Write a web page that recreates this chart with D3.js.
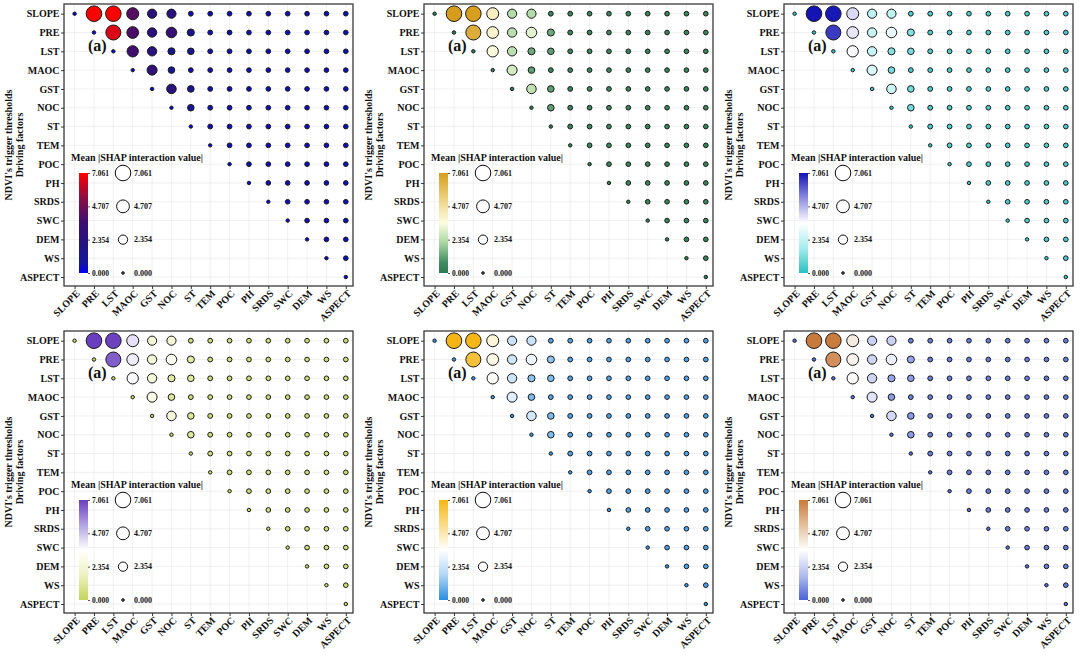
<!DOCTYPE html>
<html>
<head>
<meta charset="utf-8">
<script src="https://cdn.jsdelivr.net/npm/d3@7"></script>
<style>
  html, body { margin: 0; padding: 0; background: #ffffff; }
  svg { display: block; }
  text { font-family: "Liberation Serif", "Times New Roman", serif; font-weight: bold; fill: #111; }
</style>
</head>
<body>
<svg id="chart" width="1080" height="656"></svg>
<script>
// ---------------- DATA ----------------
const factors = ["SLOPE","PRE","LST","MAOC","GST","NOC","ST","TEM","POC","PH","SRDS","SWC","DEM","WS","ASPECT"];

// Upper-triangle mean |SHAP interaction| values; row i lists columns i..14
const rowSLOPE  = [0.15, 7.061, 7.00, 4.10, 2.30, 2.30, 0.50, 0.48, 0.46, 0.46, 0.45, 0.45, 0.45, 0.45, 0.45];
const rowPRE    = [0.15, 6.50, 3.90, 2.40, 3.10, 1.30, 0.50, 0.48, 0.47, 0.46, 0.46, 0.45, 0.45, 0.45];
const rowLST    = [0.15, 3.60, 2.40, 1.30, 1.10, 0.50, 0.48, 0.47, 0.46, 0.45, 0.45, 0.45, 0.45];
const rowMAOC   = [0.15, 2.80, 1.10, 0.50, 0.48, 0.47, 0.46, 0.45, 0.45, 0.45, 0.45, 0.45];
const rowGST    = [0.15, 2.50, 1.10, 0.50, 0.48, 0.47, 0.46, 0.45, 0.45, 0.45, 0.45];
const rowNOC    = [0.15, 1.10, 0.50, 0.48, 0.47, 0.46, 0.45, 0.45, 0.45, 0.45];
const rowST     = [0.15, 0.50, 0.48, 0.47, 0.46, 0.45, 0.45, 0.45, 0.45];
const rowTEM    = [0.15, 0.48, 0.47, 0.46, 0.45, 0.45, 0.45, 0.45];
const rowPOC    = [0.15, 0.47, 0.46, 0.45, 0.45, 0.45, 0.45];
const rowPH     = [0.15, 0.46, 0.45, 0.45, 0.45, 0.45];
const rowSRDS   = [0.15, 0.45, 0.45, 0.45, 0.45];
const rowSWC    = [0.15, 0.45, 0.45, 0.45];
const rowDEM    = [0.15, 0.45, 0.45];
const rowWS     = [0.15, 0.45];
const rowASPECT = [0.15];
const upperRows = [rowSLOPE,rowPRE,rowLST,rowMAOC,rowGST,rowNOC,rowST,rowTEM,rowPOC,rowPH,rowSRDS,rowSWC,rowDEM,rowWS,rowASPECT];

const legendTicks = [0, 2.354, 4.707, 7.061];
const legendTickLabels = ["0.000", "2.354", "4.707", "7.061"];
const vMax = 7.061;

// Colormaps (low -> high) for the six panels, with stop positions (fraction of range)
const cmapBlueRed     = ["#0000f4", "#16169c", "#1e1484", "#3c0f70", "#8a0f45", "#ff0000"];
const cmapBlueRedPos  = [0, 0.1, 0.25, 0.5, 0.75, 1];
const cmapGreenGold   = ["#2f7a52", "#3f8a60", "#a9d6a2", "#fdfde2", "#ecd080", "#d69c1c"];
const cmapTealBlue    = ["#2cc0c0", "#a6ecec", "#ffffff", "#8c8ce0", "#1414b4"];
const cmapLimePurple  = ["#c4d45a", "#eef2c2", "#ffffff", "#b3a3e2", "#6a3fbf"];
const cmapBlueYellow  = ["#2a8ee0", "#b2d6f3", "#ffffff", "#f9dc8a", "#f5b514"];
const cmapBlueBrown   = ["#4a64d6", "#b3bdec", "#ffffff", "#e4c09c", "#c87a3c"];
const cmapGreenGoldPos = [0, 0.1, 0.3, 0.5, 0.75, 1];
const uniformPos      = [0, 0.25, 0.5, 0.75, 1];
const panelColormaps  = [cmapBlueRed, cmapGreenGold, cmapTealBlue, cmapLimePurple, cmapBlueYellow, cmapBlueBrown];
const panelStopPos    = [cmapBlueRedPos, cmapGreenGoldPos, uniformPos, uniformPos, uniformPos, uniformPos];

const panelLabel = "(a)";
const yTitle1 = "NDVI's trigger thresholds";
const yTitle2 = "Driving factors";
const legendTitle = "Mean |SHAP interaction value|";

// ---------------- DRAW ----------------
const svg = d3.select("#chart");
const defs = svg.append("defs");
const colOffsets = [0, 360, 720];
const rowOffsets = [0, 327];
const ink = "#111111";

const cells = [];
upperRows.forEach((vals, i) => {
  vals.forEach((v, k) => cells.push({ row: factors[i], col: factors[i + k], value: v }));
});

const areaScale = d3.scaleLinear().domain([0, vMax]).range([1.7, 61]);
const radius = v => Math.sqrt(areaScale(v));

const frame = { left: 64, right: 353, top: 4, bottom: 286 };

panelColormaps.forEach((cmap, p) => {
  const pos = panelStopPos[p];
  const ox = colOffsets[p % 3], oy = rowOffsets[Math.floor(p / 3)];
  const g = svg.append("g").attr("transform", `translate(${ox},${oy})`);

  const x = d3.scalePoint().domain(factors).range([74.6, 345.8]);
  const y = d3.scalePoint().domain(factors).range([13.7, 277]);
  const color = d3.scaleLinear()
    .domain(pos.map(f => vMax * f))
    .range(cmap).interpolate(d3.interpolateRgb);

  // grid
  const grid = g.append("g");
  grid.selectAll("line.vx").data(factors).enter().append("line")
    .attr("x1", d => x(d)).attr("x2", d => x(d))
    .attr("y1", frame.top).attr("y2", frame.bottom)
    .attr("stroke", "#e6e6e6").attr("stroke-width", 0.6);
  grid.selectAll("line.hy").data(factors).enter().append("line")
    .attr("y1", d => y(d)).attr("y2", d => y(d))
    .attr("x1", frame.left).attr("x2", frame.right)
    .attr("stroke", "#e6e6e6").attr("stroke-width", 0.6);

  // axes
  const yAxis = g.append("g").attr("transform", `translate(${frame.left},0)`)
    .call(d3.axisLeft(y).tickSize(3).tickPadding(1.5));
  yAxis.select(".domain").remove();
  yAxis.selectAll("text").style("font-size", "10px").style("fill", ink);
  yAxis.selectAll("line").attr("stroke", "#333");

  const xAxis = g.append("g").attr("transform", `translate(0,${frame.bottom})`)
    .call(d3.axisBottom(x).tickSize(3));
  xAxis.select(".domain").remove();
  xAxis.selectAll("line").attr("stroke", "#333");
  xAxis.selectAll("text")
    .style("font-size", "10px").style("fill", ink)
    .attr("text-anchor", "end")
    .attr("dy", "0.35em").attr("y", 6).attr("x", 0)
    .attr("transform", "rotate(-45) translate(-2,0)");

  // frame
  g.append("rect").attr("x", frame.left).attr("y", frame.top)
    .attr("width", frame.right - frame.left).attr("height", frame.bottom - frame.top)
    .attr("fill", "none").attr("stroke", "#3a3a3a").attr("stroke-width", 1.3);

  // bubbles
  g.append("g").selectAll("circle").data(cells).enter().append("circle")
    .attr("cx", d => x(d.col)).attr("cy", d => y(d.row))
    .attr("r", d => radius(d.value))
    .attr("fill", d => color(d.value))
    .attr("stroke", "#1a1a1a").attr("stroke-width", 1.0);

  // panel label
  g.append("text").attr("x", 88).attr("y", 51).style("font-size", "16px").style("fill", ink).text(panelLabel);

  // y titles
  g.append("text").attr("transform", `translate(12,${(frame.top + frame.bottom) / 2}) rotate(-90)`)
    .attr("text-anchor", "middle").style("font-size", "10px").style("fill", ink).text(yTitle1);
  g.append("text").attr("transform", `translate(23,${(frame.top + frame.bottom) / 2}) rotate(-90)`)
    .attr("text-anchor", "middle").style("font-size", "10px").style("fill", ink).text(yTitle2);

  // legend
  const lg = g.append("g");
  lg.append("text").attr("x", 71).attr("y", 161).style("font-size", "10px").style("fill", ink).text(legendTitle);

  const cbTop = 173, cbBot = 273, cbX = 79, cbW = 9;
  const gradId = "grad" + p;
  const grad = defs.append("linearGradient").attr("id", gradId)
    .attr("x1", 0).attr("y1", 1).attr("x2", 0).attr("y2", 0);
  cmap.forEach((c, i) => grad.append("stop").attr("offset", pos[i]).attr("stop-color", c));
  lg.append("rect").attr("x", cbX).attr("y", cbTop).attr("width", cbW).attr("height", cbBot - cbTop)
    .attr("fill", `url(#${gradId})`);
  const cbScale = d3.scaleLinear().domain([0, vMax]).range([cbBot, cbTop]);
  const cbAxis = lg.append("g").attr("transform", `translate(${cbX + cbW},0)`)
    .call(d3.axisRight(cbScale).tickValues(legendTicks)
      .tickFormat((d, i) => legendTickLabels[i]).tickSize(2).tickPadding(2));
  cbAxis.select(".domain").remove();
  cbAxis.selectAll("line").attr("stroke", "#555");
  cbAxis.selectAll("text").style("font-size", "7.5px").style("fill", ink);

  // size legend
  const sl = lg.append("g").selectAll("g").data(legendTicks).enter().append("g")
    .attr("transform", d => `translate(123,${cbScale(d)})`);
  sl.append("circle").attr("r", d => radius(d))
    .attr("fill", d => d === 0 ? "#666" : "none").attr("stroke", "#111").attr("stroke-width", 1);
  sl.append("text").attr("x", 11).attr("dy", "0.35em")
    .style("font-size", "8px").style("fill", ink)
    .text((d, i) => legendTickLabels[i]);
});
</script>
</body>
</html>
